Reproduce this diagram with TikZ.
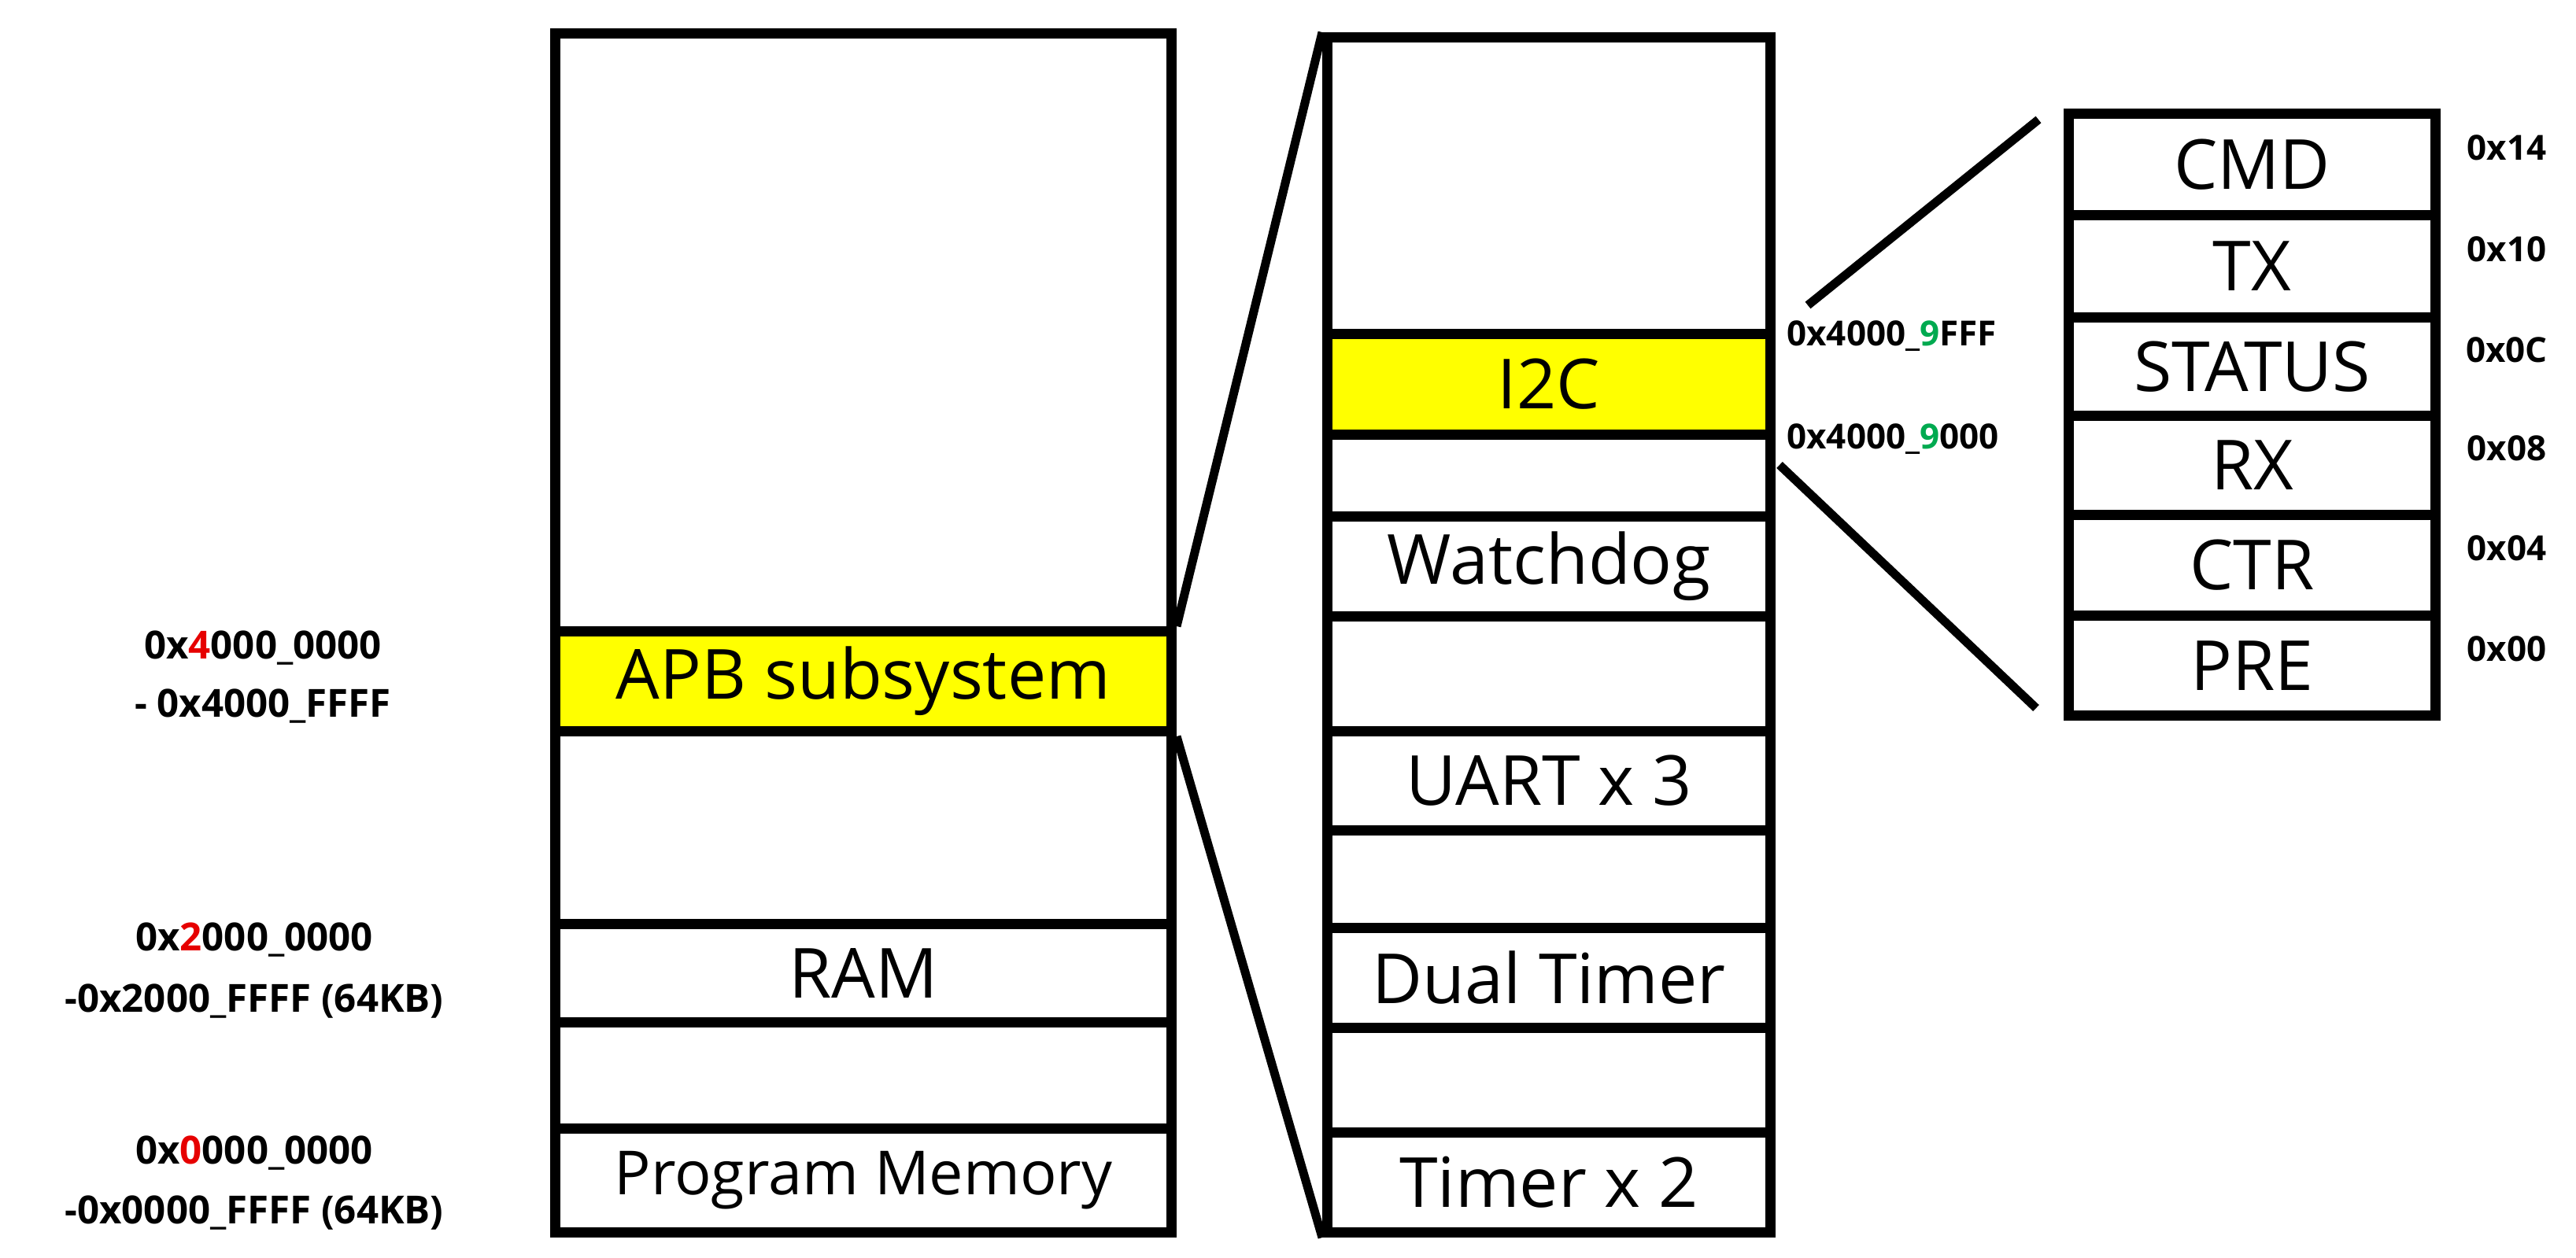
\documentclass[tikz,border=0pt]{standalone}
\usepackage{fontspec}
\setmainfont{Open Sans}
\usepackage{xcolor}
\usetikzlibrary{positioning}
\definecolor{hlyellow}{RGB}{255,255,0}
\definecolor{addrred}{RGB}{230,0,0}
\definecolor{addrgreen}{RGB}{0,170,80}

\tikzset{
  cell/.style={draw=black, line width=0.13cm, anchor=north west, inner sep=0pt,
    font=\fontsize{25}{25}\selectfont},
  hl/.style={fill=hlyellow},
  addr/.style={font=\bfseries\fontsize{14}{16}\selectfont, align=center},
  offs/.style={font=\bfseries\fontsize{12.5}{14}\selectfont},
  zoomline/.style={line width=0.11cm}
}

\begin{document}
\begin{tikzpicture}
\useasboundingbox (0,0) rectangle (32.73,-15.99);

% left: system memory map
\foreach \t/\b/\n/\txt/\st in {0.36/7.96/la//, 7.96/9.23/apb/APB subsystem/hl,
    9.23/11.68/lb//, 11.68/12.93/ram/RAM/, 12.93/14.28/lc//,
    14.28/15.60/pm/{\fontsize{22}{22}\selectfont Program Memory}/}{
  \pgfmathsetmacro\h{\b-\t}
  \node[cell, \st, minimum width=7.83cm, minimum height=\h cm] (\n) at (6.99,-\t) {\txt};
}

% middle: APB subsystem
\foreach \t/\b/\n/\txt/\st in {0.41/4.18/ma//, 4.18/5.46/i2c/I2C/hl, 5.46/6.50/mb//,
    6.50/7.77/wdog/Watchdog/, 7.77/9.23/mc//, 9.23/10.49/uart/UART x 3/,
    10.49/11.73/md//, 11.73/13.00/dtimer/Dual Timer/, 13.00/14.33/me//,
    14.33/15.60/timer/Timer x 2/}{
  \pgfmathsetmacro\h{\b-\t}
  \node[cell, \st, minimum width=5.63cm, minimum height=\h cm] (\n) at (16.80,-\t) {\txt};
}

% right: I2C registers
\foreach \t/\b/\n/\txt/\off in {1.38/2.67/cmd/CMD/0x14, 2.67/3.97/tx/TX/0x10,
    3.97/5.22/status/STATUS/0x0C, 5.22/6.48/rx/RX/0x08, 6.48/7.76/ctr/CTR/0x04,
    7.76/9.03/pre/PRE/0x00}{
  \pgfmathsetmacro\h{\b-\t}
  \node[cell, minimum width=4.66cm, minimum height=\h cm] (\n) at (26.22,-\t) {\txt};
  \node[offs] (\n off) at (31.85,{-(\t+\b)/2+0.15}) {\off};
}

% address labels
\node[addr] (a4) at (3.34,-8.24) {0x\textcolor{addrred}{4}000\_0000};
\node[addr] (a4e) at (3.34,-8.98) {- 0x4000\_FFFF};
\node[addr] (a2) at (3.23,-11.95) {0x\textcolor{addrred}{2}000\_0000};
\node[addr] (a2e) at (3.23,-12.73) {-0x2000\_FFFF (64KB)};
\node[addr] (a0) at (3.23,-14.66) {0x\textcolor{addrred}{0}000\_0000};
\node[addr] (a0e) at (3.23,-15.42) {-0x0000\_FFFF (64KB)};
\node[addr, anchor=west, font=\bfseries\fontsize{12.5}{14}\selectfont] (i2chi) at (22.58,-4.27) {0x4000\_\textcolor{addrgreen}{9}FFF};
\node[addr, anchor=west, font=\bfseries\fontsize{12.5}{14}\selectfont] (i2clo) at (22.58,-5.58) {0x4000\_\textcolor{addrgreen}{9}000};

% zoom lines
\draw[zoomline] (apb.north east) -- (ma.north west);
\draw[zoomline] (apb.south east) -- (timer.south west);
\coordinate (r1) at (22.97,-3.88);
\coordinate (r2) at (25.90,-1.52);
\coordinate (r3) at (22.61,-5.91);
\coordinate (r4) at (25.87,-9.00);
\draw[zoomline] (r1) -- (r2);
\draw[zoomline] (r3) -- (r4);
\end{tikzpicture}
\end{document}
